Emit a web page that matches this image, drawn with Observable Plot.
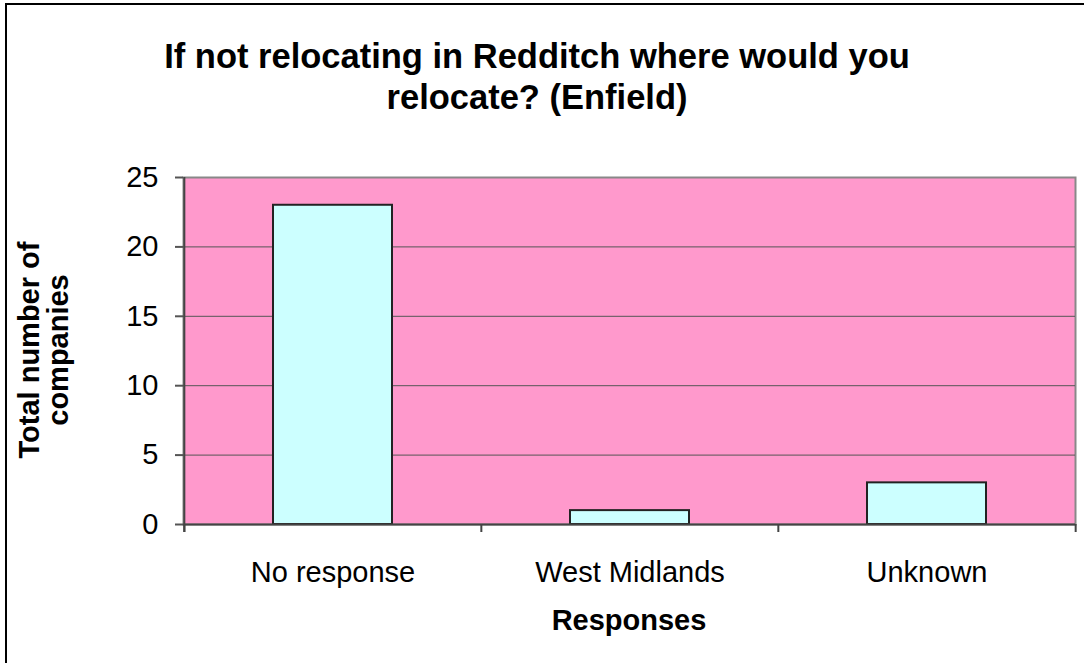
<!DOCTYPE html>
<html>
<head>
<meta charset="utf-8">
<script src="https://cdn.jsdelivr.net/npm/d3@7"></script>
<script src="https://cdn.jsdelivr.net/npm/@observablehq/plot@0.6"></script>
<style>
  html, body { margin: 0; padding: 0; background: #fff; overflow: hidden; }
  #wrap { position: relative; width: 1084px; height: 663px; overflow: hidden; font-family: "Liberation Sans", Arial, sans-serif; }
  #border { position: absolute; left: 5px; top: 3px; width: 1300px; height: 900px; border: 2px solid #000; box-sizing: border-box; }
  #chart { position: absolute; left: 0; top: 0; }
  .title { position: absolute; left: 0; width: 1074px; text-align: center; font-weight: bold; font-size: 34.5px; line-height: 41px; top: 36px; color: #000; white-space: nowrap; }
  .xtitle { position: absolute; left: 479px; width: 300px; text-align: center; font-weight: bold; font-size: 29px; line-height: 34px; top: 603px; color: #000; }
  .ytitle { position: absolute; left: 44px; top: 350px; width: 400px; text-align: center; font-weight: bold; font-size: 29px; line-height: 29px; transform: translate(-50%, -50%) rotate(-90deg); color: #000; white-space: nowrap; }
</style>
</head>
<body>
<div id="wrap">
  <div id="border"></div>
  <div id="chart"></div>
  <div class="title">If not relocating in Redditch where would you<br>relocate? (Enfield)</div>
  <div class="ytitle">Total number of<br>companies</div>
  <div class="xtitle">Responses</div>
</div>
<script>
const categories = ["No response", "West Midlands", "Unknown"];
const values = [23, 1, 3];
const yTicks = [0, 5, 10, 15, 20, 25];

const data = categories.map((c, i) => ({category: c, value: values[i]}));

const W = 1084, H = 663;
const mL = 183, mR = 9, mT = 177, mB = 139;
const step = (W - mL - mR) / categories.length;

const chart = Plot.plot({
  width: W,
  height: H,
  marginLeft: mL,
  marginRight: mR,
  marginTop: mT,
  marginBottom: mB,
  style: {fontFamily: "'Liberation Sans', Arial, sans-serif", fontSize: "29px", background: "transparent", overflow: "visible", color: "#000"},
  x: {domain: categories, paddingInner: 0.6, paddingOuter: 0.3, axis: null},
  y: {domain: [0, 25], axis: null},
  marks: [
    Plot.frame({fill: "#FF99CC", stroke: "#888888", strokeWidth: 2}),
    Plot.ruleY(yTicks.filter(d => d > 0 && d < 25), {stroke: "#555555", strokeWidth: 1}),
    Plot.barY(data, {x: "category", y: "value", fill: "#CCFFFF", stroke: "#222222", strokeWidth: 2}),
    // axis lines
    Plot.ruleX([0], {x: () => categories[0], dx: -step / 2, y1: 25, y2: 0, insetBottom: -8, stroke: "#444444", strokeWidth: 2}),
    Plot.ruleY([0], {stroke: "#444444", strokeWidth: 2}),
    // y ticks and labels
    Plot.axisY({ticks: yTicks, tickSize: 8, tickPadding: 17, label: null, fontSize: 29, stroke: "#555555", strokeWidth: 2}),
    // x tick marks at band boundaries
    Plot.ruleX(categories, {x: d => d, dx: -step / 2, y1: 0, y2: 0, insetBottom: -8, stroke: "#444444", strokeWidth: 2}),
    Plot.ruleX([categories[categories.length - 1]], {x: d => d, dx: step / 2, y1: 0, y2: 0, insetBottom: -8, stroke: "#444444", strokeWidth: 2}),
    // x labels
    Plot.text(categories, {x: d => d, frameAnchor: "bottom", dy: 48, text: d => d, fontSize: 29, fill: "#000", lineAnchor: "middle"})
  ]
});
document.getElementById("chart").appendChild(chart);
</script>
</body>
</html>
